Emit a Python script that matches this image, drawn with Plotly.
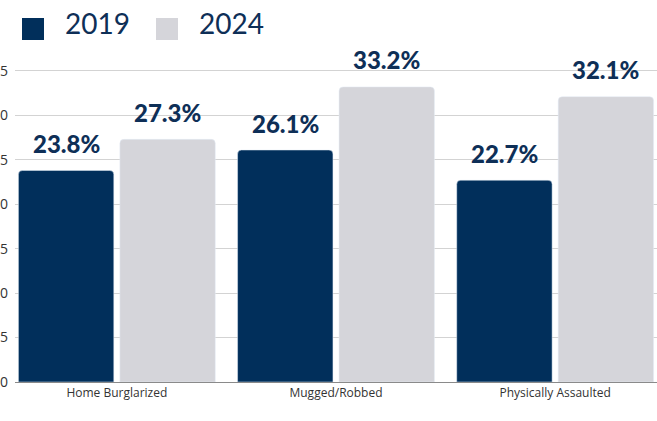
import plotly.graph_objects as go

categories = ["Home Burglarized", "Mugged/Robbed", "Physically Assaulted"]
years = ["2019", "2024"]
values_2019 = [23.8, 26.1, 22.7]
values_2024 = [27.3, 33.2, 32.1]
y_ticks = [0, 5, 10, 15, 20, 25, 30, 35]

navy = "#012f5b"
grey = "#d5d5da"
label_col = "#0e2f57"

x = list(range(len(categories)))

fig = go.Figure()
fig.add_trace(go.Bar(x=x, y=values_2019, name=years[0], marker_color=navy))
fig.add_trace(go.Bar(x=x, y=values_2024, name=years[1], marker_color=grey))

# value labels above the bars
for vals, off in [(values_2019, -0.2315), (values_2024, 0.2315)]:
    for xi, v in zip(x, vals):
        fig.add_annotation(x=xi + off, y=v, text=f"{v}%", showarrow=False,
                           yshift=27, font=dict(family="Lato", size=24, color=label_col, weight=900))

# hand-made legend with big squares
for i, (name, col) in enumerate(zip(years, [navy, grey])):
    x0 = 22 + i * 134
    fig.add_shape(type="rect", xref="paper", yref="paper",
                  x0=(x0 - 15) / 642, x1=(x0 + 22 - 15) / 642,
                  y0=(421 - 40 - 39) / 320, y1=(421 - 18 - 39) / 320,
                  fillcolor=col, line_width=0)
    fig.add_annotation(xref="paper", yref="paper", x=(x0 + 41 - 15) / 642,
                       y=(421 - 23 - 39) / 320, text=name, showarrow=False,
                       xanchor="left", yanchor="middle",
                       font=dict(family="Lato", size=28, color=label_col, weight=400))

fig.update_layout(
    width=657, height=421,
    margin=dict(l=15, r=0, t=62, b=39, autoexpand=False),
    barmode="group", bargap=0.074, bargroupgap=0.06, barcornerradius=4,
    showlegend=False,
    plot_bgcolor="white", paper_bgcolor="white",
    font=dict(family="Open Sans", color="#333333"),
)
fig.update_xaxes(range=[-0.4647, 2.4647], tickvals=x, ticktext=categories,
                 showgrid=False, showline=True, linecolor="#8a8a8a", linewidth=1,
                 tickfont=dict(size=12, color="#333333"), zeroline=False, automargin=False)
fig.update_yaxes(range=[0, 36], tickvals=y_ticks, showgrid=True, gridcolor="#d3d3d3",
                 zeroline=False, tickfont=dict(size=14, color="#333333"), automargin=False,
                 ticklabelstandoff=6)

fig.write_html("out.html", config={"displayModeBar": False},
               post_script="document.body.style.margin='0';")
